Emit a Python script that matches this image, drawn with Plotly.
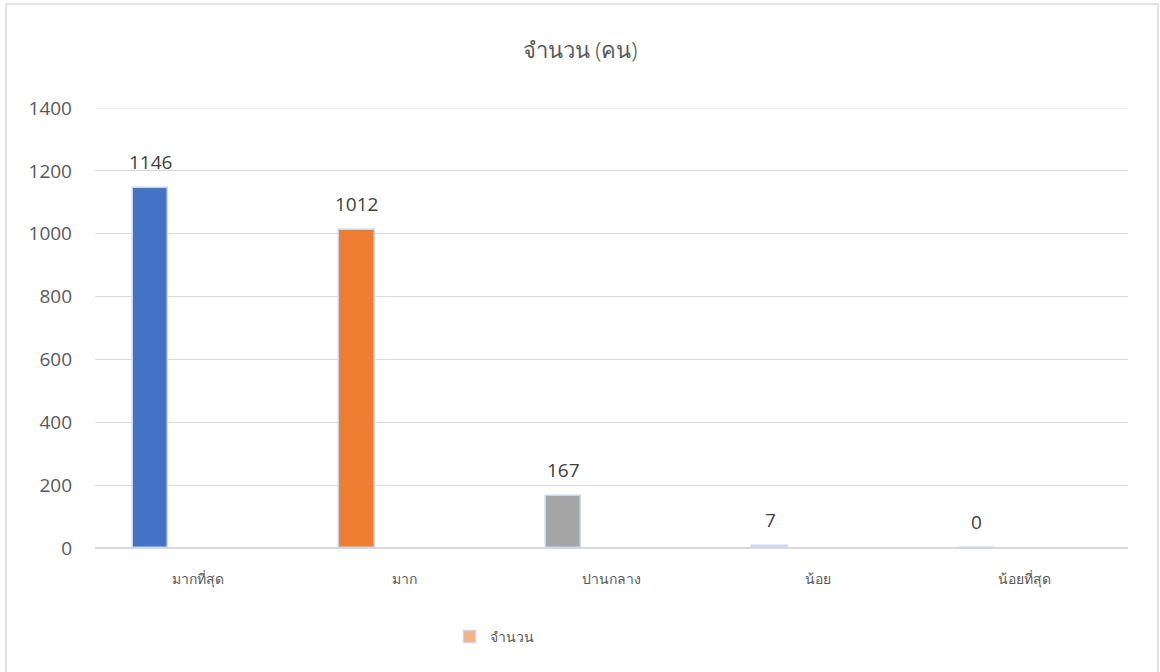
import plotly.graph_objects as go

categories = ["มากที่สุด", "มาก", "ปานกลาง", "น้อย", "น้อยที่สุด"]
values = [1146, 1012, 167, 7, 0]
bar_colors = ["#4472C4", "#ED7D31", "#A5A5A5", "#dfe4ee", "#5B9BD5"]
series_name = "จำนวน"
title_text = "จำนวน (คน)"
y_max = 1400

FONT = "Tahoma, 'Leelawadee UI', 'Noto Sans', sans-serif"
NUMFONT = "'Open Sans', sans-serif"

BAR_W = 0.172
BAR_OFF = -0.318
CAT_PX = 1033 / 5

fig = go.Figure()
fig.add_trace(go.Bar(
    x=categories, y=values, name=series_name,
    marker=dict(color=bar_colors, line=dict(color="#c9d6ee", width=1.5)),
    width=BAR_W, offset=BAR_OFF,
    showlegend=False, hoverinfo="x+y",
))
fig.add_trace(go.Bar(
    x=[categories[0]], y=[None], name=series_name,
    marker=dict(color="#F4B183", line=dict(color="#c9d6ee", width=1.5)),
    showlegend=True,
))

for c, v in zip(categories, values):
    fig.add_annotation(x=c, y=v, text=str(v), showarrow=False,
                       xshift=(BAR_OFF + BAR_W / 2) * CAT_PX, yshift=12,
                       yanchor="bottom", borderpad=0,
                       font=dict(size=19, color="#404040", family=NUMFONT))

fig.update_layout(
    width=1160, height=672,
    paper_bgcolor="white", plot_bgcolor="white",
    margin=dict(l=95, r=32, t=108, b=124),
    title=dict(text=title_text, x=0.5, xanchor="center", y=1 - 50 / 672, yanchor="middle",
               font=dict(size=22, color="#595959", family=FONT, weight=300)),
    showlegend=True,
    legend=dict(orientation="h", x=(494 - 95) / 1033, xanchor="center", y=-(637 - 548) / 440,
                yanchor="middle", font=dict(size=14, color="#595959", family=FONT)),
    barmode="overlay",
    bargap=0,
    shapes=[
        dict(type="rect", xref="paper", yref="paper",
             x0=-(95 - 6) / 1033, x1=(1158 - 95) / 1033,
             y0=-(124 + 10) / 440, y1=1 + (108 - 4) / 440,
             line=dict(color="#d9d9d9", width=1.5), fillcolor="rgba(0,0,0,0)"),
        dict(type="line", xref="paper", yref="y", x0=0, x1=1, y0=y_max, y1=y_max,
             line=dict(color="#d9d9d9", width=1), layer="below"),
    ],
)
fig.update_xaxes(showgrid=False, showline=True, linecolor="#d9d9d9", linewidth=1,
                 ticks="", tickfont=dict(size=14, color="#595959", family=FONT),
                 ticklabelstandoff=18)
fig.update_yaxes(range=[0, y_max], tick0=0, dtick=200, showgrid=True, gridcolor="#d9d9d9", gridwidth=1,
                 zeroline=True, zerolinecolor="#d9d9d9", showline=False, ticks="",
                 tickfont=dict(size=19, color="#595959", family=NUMFONT),
                 ticklabelstandoff=22)

fig.write_html("out.html", config={"displayModeBar": False},
               post_script="document.body.style.margin='0';document.body.style.overflow='hidden';")
